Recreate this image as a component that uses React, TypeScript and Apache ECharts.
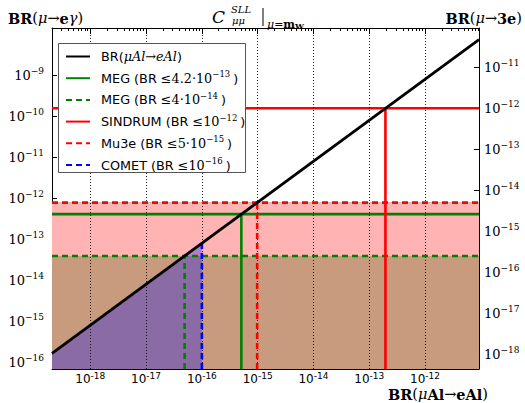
import React, { useEffect, useRef } from "react";
import * as echarts from "echarts";

// ---- axis extents / ticks ----
const crRange = [2.06e-19, 9.27e-12]; // BR(μAl→eAl) axis extent
const megRange = [7.02e-17, 1.456e-8]; // BR(μ→eγ) axis extent
const axisShift3e = 160; // BR(μ→eγ)/BR(μ→3e) scale offset of right axis
const xTickExps = [-18, -17, -16, -15, -14, -13, -12];
const leftTickExps = [-16, -15, -14, -13, -12, -11, -10, -9];
const rightTickExps = [-18, -17, -16, -15, -14, -13, -12, -11];

// ---- theory line ----
const theoryCR = [2.06e-19, 9.27e-12];
const theoryMEG = [1.69e-16, 7.6e-9];

// ---- experimental limits ----
const megNow = 4.2e-13; // BR(μ→eγ)
const megNowCR = 5.1e-16;
const megFuture = 4e-14; // BR(μ→eγ)
const megFutureCR = 4.9e-17;
const sindrum3e = 1e-12; // BR(μ→3e)
const sindrumCR = 1.95e-13;
const mu3e3e = 5e-15; // BR(μ→3e)
const mu3eCR = 9.8e-16;
const cometCR = 1e-16;
const cometTopMEG = 8.2e-14;

const names = [
  "BR(μAl→eAl)",
  "MEG (BR ≤4.2·10^-13)",
  "MEG (BR ≤4·10^-14)",
  "SINDRUM (BR ≤10^-12)",
  "Mu3e (BR ≤5·10^-15)",
  "COMET (BR ≤10^-16)",
];

const L = Math.log10;
const SERIF = "DejaVu Serif";
const SANS = "DejaVu Sans";

export default function App() {
  const ref = useRef<HTMLDivElement>(null);
  useEffect(() => {
    if (!ref.current) return;
    const chart = echarts.init(ref.current, undefined, { renderer: "svg" });
    const x0 = L(crRange[0]);
    const x1 = L(crRange[1]);
    const y0 = L(megRange[0]);
    const y1 = L(megRange[1]);
    const sh = L(axisShift3e);

    const minor: number[] = [];
    for (let n = -19; n <= -12; n++) {
      for (let k = 2; k <= 9; k++) {
        const v = L(k * Math.pow(10, n));
        if (v > x0 && v < x1) minor.push(v);
      }
    }

    const supRich = (font: string, size: number, ssize: number) => ({
      b: { fontFamily: font, fontSize: size, color: "#000" },
      s: { fontFamily: font, fontSize: ssize, color: "#000", padding: [0, 0, 9, 0] },
    });

    const lineBase = {
      type: "line" as const,
      symbol: "none",
      silent: true,
      xAxisIndex: 0,
      yAxisIndex: 0,
    };

    const sindrumL = L(sindrum3e * axisShift3e);
    const mu3eL = L(mu3e3e * axisShift3e);
    const slopeAt = (x: number) =>
      L(theoryMEG[0]) + ((x - L(theoryCR[0])) * (L(theoryMEG[1]) - L(theoryMEG[0]))) / (L(theoryCR[1]) - L(theoryCR[0]));

    const legendFmt: Record<string, string> = {
      [names[0]]: "{p|BR(}{i|μAl→eAl}{a|)}",
      [names[1]]: "{p|MEG (BR }{m|≤4.2·10}{s|−13}{c|)}",
      [names[2]]: "{p|MEG (BR }{m|≤4·10}{s|−14}{c|)}",
      [names[3]]: "{p|SINDRUM (BR }{m|≤10}{s|−12}{c|)}",
      [names[4]]: "{p|Mu3e (BR }{m|≤5·10}{s|−15}{c|)}",
      [names[5]]: "{p|COMET (BR }{m|≤10}{s|−16}{c|)}",
    };

    const axisCommon = {
      type: "value" as const,
      min: x0,
      max: x1,
      splitLine: { show: false },
    };

    const LF = 12.8;
    const option: any = {
      animation: false,
      grid: { left: 52, right: 46, top: 28, bottom: 34 },
      xAxis: [
        {
          ...axisCommon,
          position: "bottom",
          axisLine: { show: true, onZero: false, lineStyle: { color: "#000", width: 1 } },
          axisTick: { show: true, inside: true, length: 6, customValues: xTickExps, lineStyle: { color: "#000" } },
          axisLabel: {
            show: true,
            customValues: xTickExps,
            margin: 4,
            formatter: (v: number) => `{b|10}{s|-${-Math.round(v)}}`,
            rich: {
              b: { fontFamily: SANS, fontSize: 12, lineHeight: 12, color: "#000" },
              s: { fontFamily: SANS, fontSize: 9, lineHeight: 9, color: "#000", padding: [0, 0, 6, 0] },
            },
          },
        },
        {
          ...axisCommon,
          position: "bottom",
          axisLine: { show: false },
          axisTick: { show: true, inside: true, length: 3, customValues: minor, lineStyle: { color: "#000" } },
          axisLabel: { show: false },
        },
        {
          ...axisCommon,
          position: "top",
          axisLine: { show: true, onZero: false, lineStyle: { color: "#000", width: 1 } },
          axisTick: { show: true, inside: true, length: 6, customValues: xTickExps, lineStyle: { color: "#000" } },
          axisLabel: { show: false },
        },
        {
          ...axisCommon,
          position: "top",
          axisLine: { show: false },
          axisTick: { show: true, inside: true, length: 3, customValues: minor, lineStyle: { color: "#000" } },
          axisLabel: { show: false },
        },
      ],
      yAxis: [
        {
          type: "value",
          min: y0,
          max: y1,
          position: "left",
          splitLine: { show: false },
          axisLine: { show: true, onZero: false, lineStyle: { color: "#000", width: 1 } },
          axisTick: { show: true, inside: true, length: 5, customValues: leftTickExps, lineStyle: { color: "#000" } },
          axisLabel: {
            show: true,
            customValues: leftTickExps,
            margin: 8,
            formatter: (v: number) => `{b|10}{s|−${-Math.round(v)}}`,
            rich: supRich(SERIF, 13, 9),
          },
        },
        {
          type: "value",
          min: y0 - sh,
          max: y1 - sh,
          position: "right",
          splitLine: { show: false },
          axisLine: { show: true, onZero: false, lineStyle: { color: "#000", width: 1 } },
          axisTick: { show: true, inside: true, length: 5, customValues: rightTickExps, lineStyle: { color: "#000" } },
          axisLabel: {
            show: true,
            customValues: rightTickExps,
            margin: 5,
            formatter: (v: number) => `{b|10}{s|−${-Math.round(v)}}`,
            rich: supRich(SERIF, 13, 9),
          },
        },
      ],
      legend: {
        data: names,
        left: 61,
        top: 48,
        orient: "vertical",
        itemWidth: 24,
        itemHeight: 14,
        itemGap: 6.7,
        padding: [2, 4],
        z: 10,
        itemStyle: { opacity: 0 },
        formatter: (n: string) => legendFmt[n] || n,
        textStyle: {
          color: "#000",
          rich: {
            p: { fontFamily: SANS, fontSize: LF, color: "#000", padding: [0, 0, 0, 6] },
            a: { fontFamily: SANS, fontSize: LF, color: "#000" },
            c: { fontFamily: SANS, fontSize: LF, color: "#000", padding: [0, 0, 0, 3] },
            i: { fontFamily: SERIF, fontStyle: "italic", fontSize: LF, color: "#000" },
            m: { fontFamily: SERIF, fontSize: LF, color: "#000" },
            s: { fontFamily: SERIF, fontSize: 8.5, color: "#000", padding: [0, 0, 8, 0] },
          },
        },
      },
      graphic: [
        {
          type: "rect",
          z: 9,
          shape: { x: 58.5, y: 43.5, width: 187, height: 129 },
          style: { fill: "#fff", stroke: "#555", lineWidth: 1 },
          silent: true,
        },
        {
          type: "text",
          x: 8,
          y: 18,
          style: {
            text: "{bb|BR}{n|(}{it|μ}{n|→}{bb|e}{it|γ}{n|)}",
            verticalAlign: "middle",
            textVerticalAlign: "middle",
            rich: {
              bb: { fontFamily: SERIF, fontWeight: "bold", fontSize: 14.5, fill: "#000" },
              n: { fontFamily: SERIF, fontSize: 14.5, fill: "#000" },
              it: { fontFamily: SERIF, fontStyle: "italic", fontSize: 14.5, fill: "#000" },
            },
          },
        },
        {
          type: "text",
          x: 522,
          y: 18,
          style: {
            text: "{bb|BR}{n|(}{it|μ}{n|→}{bb|3e}{n|)}",
            align: "right",
            textAlign: "right",
            verticalAlign: "middle",
            textVerticalAlign: "middle",
            rich: {
              bb: { fontFamily: SERIF, fontWeight: "bold", fontSize: 14.5, fill: "#000" },
              n: { fontFamily: SERIF, fontSize: 14.5, fill: "#000" },
              it: { fontFamily: SERIF, fontStyle: "italic", fontSize: 14.5, fill: "#000" },
            },
          },
        },
        {
          type: "text",
          x: 488,
          y: 402,
          style: {
            text: "{bb|BR}{n|(}{it|μ}{bb|Al}{n|→}{bb|eAl}{n|)}",
            align: "right",
            textAlign: "right",
            verticalAlign: "bottom",
            textVerticalAlign: "bottom",
            rich: {
              bb: { fontFamily: SERIF, fontWeight: "bold", fontSize: 14.5, lineHeight: 16, fill: "#000" },
              n: { fontFamily: SERIF, fontSize: 14.5, lineHeight: 16, fill: "#000" },
              it: { fontFamily: SERIF, fontStyle: "italic", fontSize: 14.5, lineHeight: 16, fill: "#000" },
            },
          },
        },
        {
          type: "text",
          x: 212,
          y: 17,
          style: {
            text: "C",
            font: `italic 17px "${SERIF}"`,
            fill: "#000",
            verticalAlign: "middle",
            textVerticalAlign: "middle",
          },
        },
        {
          type: "text",
          x: 231,
          y: 9,
          style: {
            text: "SLL",
            font: `italic 10px "${SERIF}"`,
            fill: "#000",
            verticalAlign: "middle",
            textVerticalAlign: "middle",
          },
        },
        {
          type: "text",
          x: 232,
          y: 20,
          style: {
            text: "μμ",
            font: `italic 10px "${SERIF}"`,
            fill: "#000",
            verticalAlign: "middle",
            textVerticalAlign: "middle",
          },
        },
        {
          type: "line",
          shape: { x1: 263, y1: 8, x2: 263, y2: 26 },
          style: { stroke: "#000", lineWidth: 1 },
        },
        {
          type: "text",
          x: 267,
          y: 24,
          style: {
            text: "{it|μ}{n|=}{bb|m}{sb|W}",
            verticalAlign: "middle",
            textVerticalAlign: "middle",
            rich: {
              it: { fontFamily: SERIF, fontStyle: "italic", fontSize: 11, fill: "#000" },
              n: { fontFamily: SERIF, fontSize: 11, fill: "#000" },
              bb: { fontFamily: SERIF, fontWeight: "bold", fontSize: 11, fill: "#000" },
              sb: { fontFamily: SERIF, fontWeight: "bold", fontSize: 8, fill: "#000", padding: [4, 0, 0, 0] },
            },
          },
        },
      ],
      series: [
        {
          ...lineBase,
          name: "fill-mu3e",
          z: 1,
          data: [
            [x0, mu3eL],
            [x1, mu3eL],
          ],
          lineStyle: { color: "#bbbbbb", width: 1 },
          areaStyle: { color: "#ffb3b3", opacity: 1, origin: "start" },
        },
        {
          ...lineBase,
          name: "fill-meg",
          z: 1,
          data: [
            [x0, L(megFuture)],
            [x1, L(megFuture)],
          ],
          lineStyle: { width: 0 },
          areaStyle: { color: "#c89a7e", opacity: 1, origin: "start" },
        },
        {
          ...lineBase,
          name: "fill-comet",
          z: 1,
          data: [
            [x0, slopeAt(x0)],
            [L(cometCR), slopeAt(L(cometCR))],
          ],
          lineStyle: { width: 0 },
          areaStyle: { color: "rgba(0,0,255,0.3)", opacity: 1, origin: "start" },
        },
        {
          ...lineBase,
          name: "gridlines",
          z: 1,
          data: [[x0, y0]],
          lineStyle: { width: 0 },
          markLine: {
            silent: true,
            symbol: "none",
            animation: false,
            label: { show: false },
            lineStyle: { color: "#000", type: [1, 2], width: 1, opacity: 0.85 },
            data: xTickExps.map((v) => ({ xAxis: v })),
          },
        },
        // theory line
        {
          ...lineBase,
          name: names[0],
          z: 6,
          data: theoryCR.map((c, i) => [L(c), L(theoryMEG[i])]),
          lineStyle: { color: "#000", width: 2.8 },
          itemStyle: { color: "#000" },
        },
        // MEG now
        {
          ...lineBase,
          name: names[1],
          z: 4,
          data: [
            [x0, L(megNow)],
            [x1, L(megNow)],
          ],
          lineStyle: { color: "#008000", width: 2.6 },
          itemStyle: { color: "#008000" },
        },
        {
          ...lineBase,
          name: names[1],
          z: 4,
          data: [
            [L(megNowCR), y0],
            [L(megNowCR), L(megNow)],
          ],
          lineStyle: { color: "#008000", width: 2.6 },
          itemStyle: { color: "#008000" },
        },
        // MEG future
        {
          ...lineBase,
          name: names[2],
          z: 4,
          data: [
            [x0, L(megFuture)],
            [x1, L(megFuture)],
          ],
          lineStyle: { color: "#008000", width: 2.6, type: [6, 4] },
          itemStyle: { color: "#008000" },
        },
        {
          ...lineBase,
          name: names[2],
          z: 4,
          data: [
            [L(megFutureCR), y0],
            [L(megFutureCR), L(megFuture)],
          ],
          lineStyle: { color: "#008000", width: 2.6, type: [6, 4] },
          itemStyle: { color: "#008000" },
        },
        // SINDRUM
        {
          ...lineBase,
          name: names[3],
          z: 4,
          data: [
            [x0, sindrumL],
            [x1, sindrumL],
          ],
          lineStyle: { color: "#ff0000", width: 2.6 },
          itemStyle: { color: "#ff0000" },
        },
        {
          ...lineBase,
          name: names[3],
          z: 4,
          data: [
            [L(sindrumCR), y0],
            [L(sindrumCR), sindrumL],
          ],
          lineStyle: { color: "#ff0000", width: 2.6 },
          itemStyle: { color: "#ff0000" },
        },
        // Mu3e
        {
          ...lineBase,
          name: names[4],
          z: 5,
          data: [
            [x0, mu3eL],
            [x1, mu3eL],
          ],
          lineStyle: { color: "#ff0000", width: 2.6, type: [6, 4] },
          itemStyle: { color: "#ff0000" },
        },
        {
          ...lineBase,
          name: names[4],
          z: 5,
          data: [
            [L(mu3eCR), y0],
            [L(mu3eCR), mu3eL],
          ],
          lineStyle: { color: "#ff0000", width: 2.6, type: [6, 4] },
          itemStyle: { color: "#ff0000" },
        },
        // COMET
        {
          ...lineBase,
          name: names[5],
          z: 5,
          data: [
            [L(cometCR), y0],
            [L(cometCR), L(cometTopMEG)],
          ],
          lineStyle: { color: "#0000ff", width: 2.6, type: [6, 4] },
          itemStyle: { color: "#0000ff" },
        },
      ],
    };
    chart.setOption(option);
    return () => chart.dispose();
  }, []);
  return (
    <div
      ref={ref}
      style={{ position: "fixed", left: 0, top: 0, width: 525, height: 403, background: "#fff" }}
    />
  );
}
